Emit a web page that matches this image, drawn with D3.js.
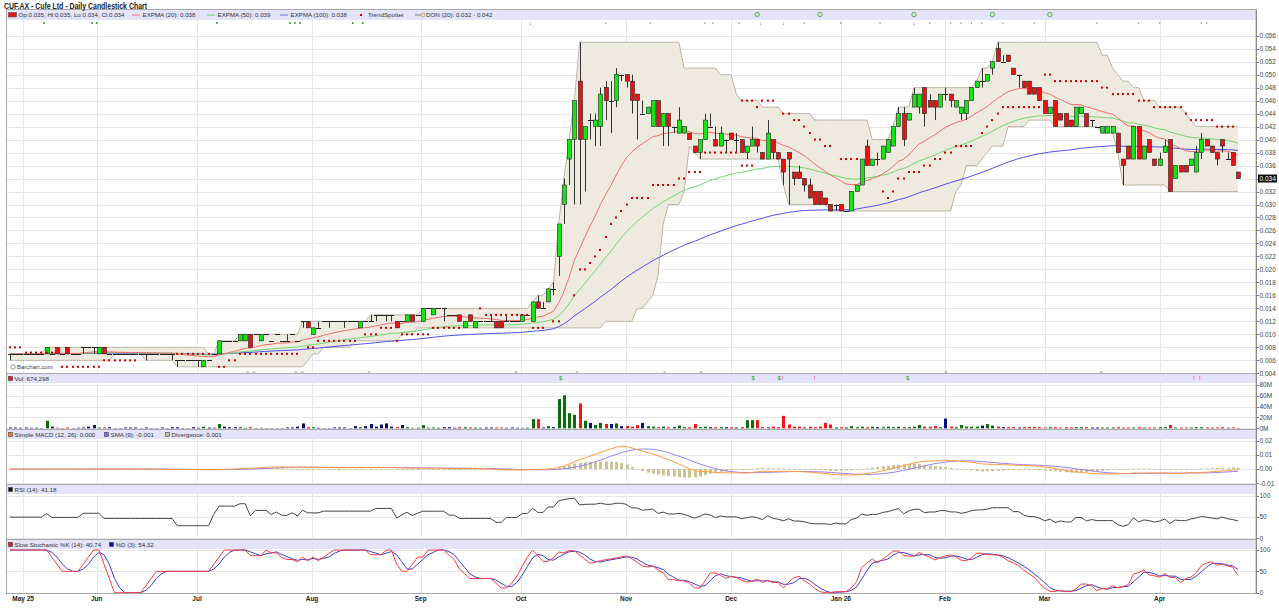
<!DOCTYPE html>
<html>
<head>
<meta charset="utf-8">
<title>CUF.AX - Cufe Ltd - Daily Candlestick Chart</title>
<script src="https://cdn.jsdelivr.net/npm/d3@7/dist/d3.min.js"></script>
<style>
	body { margin: 0; background: #ffffff; }
	svg { display: block; font-family: Arial, "Liberation Sans", Helvetica, sans-serif; }
</style>
</head>
<body>
<svg id="chart" width="1279" height="615"></svg>
<script>
// daily bars (one entry per bar, oldest first)
var priceOpen = [
	.007,.007,.007,.007,.007,.007,.007,.007,.007,.008,
	.007,.008,.007,.007,.008,.008,.008,.007,.008,.007,
	.007,.007,.007,.007,.007,.007,.007,.007,.007,.007,
	.007,.007,.006,.006,.006,.006,.006,.005,.006,.007,
	.007,.009,.009,.009,.009,.009,.010,.010,.009,.010,
	.009,.010,.009,.009,.010,.009,.012,.012,.010,.011,
	.012,.012,.012,.012,.012,.012,.012,.011,.012,.012,
	.013,.013,.013,.013,.012,.012,.012,.013,.013,.012,
	.014,.013,.014,.014,.013,.013,.013,.011,.013,.011,
	.012,.012,.012,.012,.012,.012,.012,.012,.012,.013,
	.012,.015,.014,.015,.017,.022,.030,.037,.040,.049,
	.040,.043,.042,.042,.048,.046,.046,.050,.050,.049,
	.047,.044,.044,.042,.046,.042,.044,.042,.041,.041,
	.041,.039,.038,.040,.042,.040,.039,.040,.041,.040,
	.040,.038,.039,.040,.038,.037,.040,.038,.037,.038,
	.035,.035,.034,.033,.032,.032,.031,.030,.030,.030,
	.029,.029,.032,.033,.039,.036,.037,.037,.038,.039,
	.042,.044,.043,.045,.045,.048,.046,.046,.045,.047,
	.047,.045,.044,.044,.046,.048,.049,.049,.051,.054,
	.052,.053,.051,.050,.049,.049,.048,.048,.046,.044,
	.046,.044,.044,.043,.042,.044,.044,.043,.042,.041,
	.041,.041,.041,.037,.039,.037,.042,.037,.040,.037,
	.036,.038,.040,.034,.036,.036,.036,.035,.038,.040,
	.039,.038,.040,.037,.038,.035
];
var priceHigh = [
	.007,.007,.007,.007,.007,.007,.007,.008,.007,.008,
	.007,.008,.007,.007,.008,.008,.008,.008,.008,.007,
	.007,.007,.007,.007,.007,.007,.007,.007,.007,.007,
	.007,.007,.006,.006,.006,.006,.006,.006,.006,.007,
	.009,.009,.009,.009,.010,.010,.010,.010,.010,.010,
	.009,.010,.009,.010,.010,.009,.012,.012,.011,.012,
	.012,.012,.012,.012,.012,.012,.012,.012,.012,.013,
	.013,.013,.013,.013,.012,.012,.013,.013,.013,.014,
	.014,.014,.014,.014,.013,.013,.013,.012,.013,.012,
	.012,.012,.013,.012,.012,.013,.012,.012,.013,.013,
	.015,.016,.015,.017,.018,.027,.034,.040,.046,.055,
	.042,.044,.044,.048,.049,.049,.051,.050,.050,.050,
	.047,.046,.045,.046,.046,.044,.044,.042,.045,.042,
	.041,.039,.040,.044,.044,.042,.042,.040,.041,.041,
	.040,.039,.042,.040,.038,.043,.040,.038,.037,.038,
	.035,.036,.034,.034,.032,.032,.031,.030,.030,.030,
	.029,.032,.033,.037,.040,.037,.038,.039,.040,.042,
	.045,.045,.044,.048,.047,.048,.047,.046,.047,.048,
	.047,.046,.045,.046,.048,.049,.051,.050,.052,.055,
	.053,.053,.051,.050,.049,.049,.048,.048,.046,.045,
	.046,.044,.044,.043,.045,.045,.044,.043,.042,.042,
	.042,.042,.041,.037,.039,.042,.042,.039,.040,.037,
	.038,.040,.040,.036,.036,.036,.037,.039,.041,.040,
	.039,.038,.040,.038,.038,.035
];
var priceLow = [
	.006,.007,.007,.007,.007,.007,.007,.007,.007,.007,
	.007,.007,.007,.007,.007,.008,.007,.007,.007,.007,
	.007,.007,.007,.007,.007,.007,.006,.007,.007,.007,
	.007,.006,.005,.006,.006,.006,.005,.005,.006,.007,
	.007,.009,.009,.009,.009,.009,.008,.010,.009,.010,
	.009,.010,.009,.009,.010,.009,.011,.011,.010,.011,
	.012,.011,.012,.012,.011,.012,.012,.011,.012,.012,
	.012,.013,.012,.012,.011,.012,.012,.012,.013,.012,
	.014,.013,.014,.012,.013,.013,.012,.011,.012,.011,
	.012,.012,.012,.011,.011,.012,.012,.012,.012,.013,
	.012,.014,.014,.015,.016,.019,.027,.033,.030,.030,
	.032,.040,.039,.039,.043,.041,.045,.049,.048,.044,
	.040,.044,.044,.042,.042,.039,.039,.041,.041,.041,
	.040,.038,.037,.040,.042,.039,.039,.038,.040,.038,
	.038,.037,.039,.038,.037,.037,.037,.037,.033,.030,
	.033,.034,.032,.031,.030,.030,.030,.029,.029,.029,
	.029,.029,.032,.033,.036,.036,.036,.037,.038,.039,
	.042,.039,.043,.045,.044,.042,.045,.043,.045,.046,
	.045,.045,.043,.043,.046,.048,.048,.049,.050,.052,
	.052,.052,.050,.048,.048,.047,.047,.046,.044,.044,
	.042,.043,.042,.042,.042,.044,.042,.042,.042,.041,
	.041,.041,.038,.033,.037,.037,.037,.037,.038,.036,
	.036,.038,.032,.034,.035,.035,.036,.035,.037,.039,
	.038,.036,.038,.037,.036,.034
];
var priceClose = [
	.007,.007,.007,.007,.007,.007,.007,.008,.007,.007,
	.007,.007,.007,.007,.008,.008,.008,.008,.007,.007,
	.007,.007,.007,.007,.007,.007,.007,.007,.007,.007,
	.007,.007,.006,.006,.006,.006,.006,.006,.006,.007,
	.009,.009,.009,.009,.010,.010,.008,.010,.010,.010,
	.009,.010,.009,.009,.010,.009,.012,.011,.011,.011,
	.012,.012,.012,.012,.012,.012,.012,.012,.012,.012,
	.013,.013,.013,.013,.011,.012,.013,.012,.013,.014,
	.014,.014,.014,.014,.013,.013,.012,.012,.012,.012,
	.012,.012,.012,.011,.011,.012,.012,.012,.013,.013,
	.015,.014,.014,.017,.017,.027,.033,.040,.046,.040,
	.042,.043,.043,.047,.046,.046,.050,.050,.049,.046,
	.046,.044,.045,.046,.042,.044,.042,.042,.043,.042,
	.040,.038,.040,.043,.042,.039,.041,.040,.040,.040,
	.038,.039,.040,.039,.037,.041,.038,.037,.035,.037,
	.034,.034,.033,.031,.030,.030,.030,.029,.030,.029,
	.029,.032,.033,.037,.036,.037,.037,.039,.040,.042,
	.044,.040,.044,.047,.047,.044,.045,.045,.047,.047,
	.046,.046,.045,.046,.048,.049,.049,.050,.052,.052,
	.052,.052,.050,.050,.048,.047,.047,.046,.044,.045,
	.042,.043,.042,.042,.045,.045,.042,.043,.042,.042,
	.042,.042,.038,.036,.037,.042,.037,.039,.038,.036,
	.037,.039,.032,.036,.035,.035,.037,.038,.040,.039,
	.038,.037,.039,.037,.036,.034
];
// volume in millions of shares
var volumeM = [
	1.5,1.5,1,1.5,1,1,0.5,14,3,1,
	0.5,1.5,0.5,1,1.5,3,6,1.5,1.5,2,
	0.5,0.5,1.5,1.5,1.5,0.5,1.5,0.5,0.5,1.5,
	0.5,2,2,0.5,0.5,2,1,3,1.5,1,
	8,3,2,2,2,1,2,0.5,1,0.5,
	0.5,0.5,0.5,1.5,1.5,3,9,2,2,1,
	0.5,0.5,1.5,1.5,1.5,0.5,4,2,4,8,
	3,7,9,3,2,6,2,1,1,6,
	1,1.5,1,2,2,1,2,2,1.5,1.5,
	1,1.5,1.5,1.5,1.5,1,1.5,1,1,1,
	17,17,1.5,4,2,54,61,28,25,46,
	14,10,6,10,8,8,9,4,4,3,
	6,10,4,3,2,3,2,2,5,2,
	2,8,2,3,2,2,2,2,2,1.5,
	2,15,15,15,2,2,3,2,23,7,
	3,3,2,3,2,3,10,7,1.5,2,
	1.5,4,2,3,2,3,2,2,3,2,
	3,2,2,3,6,3,3,4,2,18,
	3,2,6,3,3,3,5,8,5,3,
	2,2,2,1.5,2,2,2,2,1.5,2,
	2,1.5,2,1.5,2,2,2,1.5,1.5,1.5,
	1.5,1.5,2,1.5,1.5,1.5,2,1.5,1.5,1.5,
	2,2,6,1.5,1.5,1.5,1.5,2,2,1.5,
	1.5,1.5,2,1,1.5,0.67
];

// x axis: month labels and the bar position where each month starts
var monthLabels = ["May 25", "Jun", "Jul", "Aug", "Sep", "Oct", "Nov", "Dec", "Jan 26", "Feb", "Mar", "Apr"];
var monthIdx = [2.5, 16.6, 35.8, 57.8, 78.6, 97.8, 117.9, 138, 159, 178.9, 198, 220];

// TrendSpotter dots as runs: first bar, last bar, level
var spotStart = [0,3,10,18,32,40,42,44,57,59,68,71,74,75,81,90,91,100,104,108,109,111,112,113,114,115,116,117,118,119,123,128,130,133,140,140,143,144,148,150,152,153,154,156,159,167,168,169,170,172,175,177,179,181,186,187,188,189,190,198,200,209,211,216,219,225,226,231];
var spotEnd   = [2,8,17,24,38,41,43,55,58,66,70,73,74,80,86,90,99,102,105,108,110,111,112,113,114,115,116,117,118,122,127,129,132,139,142,142,143,146,149,151,152,153,155,157,162,167,168,169,171,174,176,178,180,184,186,187,188,189,197,199,208,210,215,218,224,225,230,234];
var spotValue = [.008,.0072,.005,.006,.007,.005,.006,.007,.008,.009,.010,.011,.009,.010,.011,.014,.013,.011,.012,.016,.020,.021,.022,.023,.025,.027,.028,.029,.030,.031,.033,.034,.035,.038,.036,.046,.045,.046,.044,.043,.042,.041,.040,.039,.037,.032,.031,.032,.034,.035,.036,.037,.038,.039,.041,.042,.043,.044,.045,.050,.049,.048,.047,.046,.045,.044,.043,.042];

// signal / event markers (bar positions)
var upSignals = [6.5, 15.7, 16.6, 39.6, 53.6, 54.5, 55.5, 65.6, 67.5];
var downSignals = [99.6, 143.6, 148, 173];
var smallSignals = [114, 122.5, 133, 134.5, 139.5, 152, 159, 166.5, 176, 180, 182, 184, 186, 190, 196, 208, 216, 220, 228, 229];
var circleSignals = [143, 155, 173, 188, 199];
var caretEvents = [45.5, 46.7, 54.7, 55.9, 68.7, 96.8, 108.5, 125.3, 132.2, 179.1, 208.8];
var dollarEvents = [105.4, 142.2, 147.2, 171.8];
var pinkEvents = [147.9, 154, 226.6, 227.7];

// legend texts as printed on the chart
var titleText = "CUF.AX - Cufe Ltd - Daily Candlestick Chart";
var legendMain = ["Op:0.035, Hi:0.035, Lo:0.034, Cl:0.034", "EXPMA (20): 0.038", "EXPMA (50): 0.039", "EXPMA (100): 0.038", "TrendSpotter", "DON (20): 0.032 - 0.042"];
var legendVol = "Vol: 674,298";
var legendMacd = ["Simple MACD (12, 26): 0.000", "SMA (9): -0.001", "Divergence: 0.001"];
var legendRsi = "RSI (14): 41.18";
var legendStoch = ["Slow Stochastic %K (14): 40.74", "%D (3): 54.32"];
var lastPrice = 0.034;

// ---- studies computed from the bars ----
function emaOf(v, len)
{
	var k = 2 / (len + 1), out = [];
	v.forEach(function(d, i) { out.push(i === 0 ? d : d * k + out[i - 1] * (1 - k)); });
	return out;
}
function smaOf(v, len)
{
	return v.map(function(d, i) { return d3.mean(v.slice(Math.max(0, i - len + 1), i + 1)); });
}
function rsiOf(c, len)
{
	// wilder smoothing, started from a neutral state
	var ag = 0.0003, al = 0.0003, out = [50];
	for (var i = 1; i < c.length; i++)
	{
		var d = c[i] - c[i - 1];
		ag = (ag * (len - 1) + Math.max(d, 0)) / len;
		al = (al * (len - 1) + Math.max(-d, 0)) / len;
		out.push(100 - 100 / (1 + ag / al));
	}
	return out;
}

var n = priceClose.length;
var ema20 = emaOf(priceClose, 20), ema50 = emaOf(priceClose, 50), ema100 = emaOf(priceClose, 100);
var donHigh = priceHigh.map(function(d, i) { return d3.max(priceHigh.slice(Math.max(0, i - 19), i + 1)); });
var donLow = priceLow.map(function(d, i) { return d3.min(priceLow.slice(Math.max(0, i - 19), i + 1)); });
var sma12 = smaOf(priceClose, 12), sma26 = smaOf(priceClose, 26);
var macd = sma12.map(function(d, i) { return d - sma26[i]; });
var macdSig = smaOf(macd, 9);
var macdDiv = macd.map(function(d, i) { return d - macdSig[i]; });
var rsi = rsiOf(priceClose, 14);
var fastK = priceClose.map(function(c, i)
{
	var hh = d3.max(priceHigh.slice(Math.max(0, i - 13), i + 1));
	var ll = d3.min(priceLow.slice(Math.max(0, i - 13), i + 1));
	return hh === ll ? 50 : (c - ll) / (hh - ll) * 100;
});
var slowK = smaOf(fastK, 3);
var slowD = smaOf(slowK, 3);

var spots = [];
spotStart.forEach(function(s, k)
{
	for (var i = s; i <= spotEnd[k]; i++) spots.push({ i: i, v: spotValue[k] });
});

// ---- layout ----
var svg = d3.select("#chart");
var plotLeft = 6, plotRight = 1256;
var x = d3.scaleLinear().domain([0, n - 1]).range([10, 1238]);
var idx = d3.range(n);
function cx(i) { return Math.round(x(i)) + 0.5; }

var panes = [
	{ id: "main", top: 9.5, bottom: 373.5, legendH: 10,
		y: d3.scaleLinear().domain([0.004, 0.056]).range([373.3, 35.7]),
		ticks: d3.range(4, 57, 2).map(function(d) { return d / 1000; }),
		fmt: function(d) { return d.toFixed(3); } },
	{ id: "vol", top: 373.5, bottom: 429.5, legendH: 9,
		y: d3.scaleLinear().domain([0, 80]).range([428.3, 385]),
		ticks: [0, 20, 40, 60, 80], fmt: function(d) { return d + "M"; } },
	{ id: "macd", top: 429.5, bottom: 484.5, legendH: 9,
		y: d3.scaleLinear().domain([-0.01, 0.02]).range([483.3, 440.7]),
		ticks: [-0.01, 0, 0.01, 0.02], fmt: function(d) { return d.toFixed(2); } },
	{ id: "rsi", top: 484.5, bottom: 539.5, legendH: 9,
		y: d3.scaleLinear().domain([0, 100]).range([538.3, 496]),
		ticks: [0, 50, 100], fmt: String },
	{ id: "stoch", top: 539.5, bottom: 593.5, legendH: 9,
		y: d3.scaleLinear().domain([0, 100]).range([592.7, 550]),
		ticks: [0, 50, 100], fmt: String }
];
var pane = {};
panes.forEach(function(p) { pane[p.id] = p; });

var defs = svg.append("defs");
panes.forEach(function(p)
{
	defs.append("clipPath").attr("id", "clip-" + p.id).append("rect")
		.attr("x", plotLeft).attr("y", p.top).attr("width", plotRight - plotLeft).attr("height", p.bottom - p.top);

	var g = svg.append("g").attr("class", "pane-" + p.id);
	// horizontal grid
	g.selectAll("line.hgrid").data(p.ticks).join("line")
		.attr("x1", plotLeft).attr("x2", plotRight)
		.attr("y1", function(d) { return Math.round(p.y(d)) + 0.5; })
		.attr("y2", function(d) { return Math.round(p.y(d)) + 0.5; })
		.attr("stroke", "#e6e6e6").attr("stroke-width", 1);
	// month grid
	g.selectAll("line.vgrid").data(monthIdx).join("line")
		.attr("x1", function(d) { return cx(d); }).attr("x2", function(d) { return cx(d); })
		.attr("y1", p.top).attr("y2", p.bottom)
		.attr("stroke", "#e6e6e6").attr("stroke-width", 1);
	// legend strip
	g.append("rect").attr("x", plotLeft + 0.5).attr("y", p.top + 0.5)
		.attr("width", plotRight - plotLeft - 1).attr("height", p.legendH)
		.attr("fill", "#e4e4f9");
	p.plot = svg.append("g").attr("clip-path", "url(#clip-" + p.id + ")");
	// right axis ticks and labels
	var ax = svg.append("g");
	ax.selectAll("line").data(p.ticks).join("line")
		.attr("x1", plotRight).attr("x2", plotRight + 3)
		.attr("y1", function(d) { return Math.round(p.y(d)) + 0.5; })
		.attr("y2", function(d) { return Math.round(p.y(d)) + 0.5; })
		.attr("stroke", "#777");
	ax.selectAll("text").data(p.ticks).join("text")
		.attr("x", plotRight + 3.5).attr("y", function(d) { return p.y(d); }).attr("dy", "0.35em")
		.attr("font-size", 6.5).attr("fill", "#444").text(p.fmt);
});

// ---- main price pane ----
var yP = pane.main.y, mg = pane.main.plot;
mg.append("path").datum(idx)
	.attr("d", d3.area().x(function(i) { return x(i); })
		.y0(function(i) { return yP(donLow[i]); }).y1(function(i) { return yP(donHigh[i]); }))
	.attr("fill", "#efeadf");
[donHigh, donLow].forEach(function(s)
{
	mg.append("path").datum(idx)
		.attr("d", d3.line().x(function(i) { return x(i); }).y(function(i) { return yP(s[i]); }))
		.attr("fill", "none").attr("stroke", "#bdb5a6").attr("stroke-width", 1);
});
[[ema100, "#4f4ff0"], [ema50, "#6fd66f"], [ema20, "#f26b6b"]].forEach(function(e)
{
	mg.append("path").datum(idx)
		.attr("d", d3.line().x(function(i) { return x(i); }).y(function(i) { return yP(e[0][i]); }))
		.attr("fill", "none").attr("stroke", e[1]).attr("stroke-width", 1);
});

mg.selectAll("line.wick").data(idx).join("line").attr("class", "wick")
	.attr("x1", cx).attr("x2", cx)
	.attr("y1", function(i) { return yP(priceHigh[i]); })
	.attr("y2", function(i) { return yP(priceLow[i]); })
	.attr("stroke", "#333").attr("stroke-width", 1);
var bodies = idx.filter(function(i) { return priceOpen[i] !== priceClose[i]; });
var dojis = idx.filter(function(i) { return priceOpen[i] === priceClose[i]; });
mg.selectAll("rect.body").data(bodies).join("rect").attr("class", "body")
	.attr("x", function(i) { return cx(i) - 2; }).attr("width", 4)
	.attr("y", function(i) { return yP(Math.max(priceOpen[i], priceClose[i])); })
	.attr("height", function(i) { return Math.max(1, yP(Math.min(priceOpen[i], priceClose[i])) - yP(Math.max(priceOpen[i], priceClose[i]))); })
	.attr("fill", function(i) { return priceClose[i] > priceOpen[i] ? "#14e614" : "#ec1010"; })
	.attr("stroke", "#222").attr("stroke-width", 0.6);
mg.selectAll("line.doji").data(dojis).join("line").attr("class", "doji")
	.attr("x1", function(i) { return cx(i) - 2.5; }).attr("x2", function(i) { return cx(i) + 2.5; })
	.attr("y1", function(i) { return Math.round(yP(priceClose[i])) + 0.5; })
	.attr("y2", function(i) { return Math.round(yP(priceClose[i])) + 0.5; })
	.attr("stroke", "#222").attr("stroke-width", 1);

mg.selectAll("rect.spot").data(spots).join("rect").attr("class", "spot")
	.attr("x", function(d) { return cx(d.i) - 1.5; }).attr("y", function(d) { return yP(d.v) - 1; })
	.attr("width", 2).attr("height", 2).attr("fill", "#cc0000");

// signal markers along the top of the price pane
mg.selectAll("circle.up").data(upSignals).join("circle")
	.attr("cx", function(d) { return x(d); }).attr("cy", 23).attr("r", 1).attr("fill", "#2a9a2a");
mg.selectAll("circle.small").data(smallSignals).join("circle")
	.attr("cx", function(d) { return x(d); }).attr("cy", 23).attr("r", 0.7).attr("fill", "#777");
mg.selectAll("text.down").data(downSignals).join("text")
	.attr("x", function(d) { return x(d); }).attr("y", 25).attr("text-anchor", "middle")
	.attr("font-size", 6).attr("fill", "#dd2222").text("\u2193");
svg.selectAll("circle.ring").data(circleSignals).join("circle")
	.attr("cx", function(d) { return x(d); }).attr("cy", 14.5).attr("r", 2.2)
	.attr("fill", "#d8f0d8").attr("stroke", "#3a9a3a").attr("stroke-width", 0.8);

// event markers along the bottom
mg.selectAll("text.caret").data(caretEvents).join("text")
	.attr("x", function(d) { return x(d); }).attr("y", 375).attr("text-anchor", "middle")
	.attr("font-size", 6).attr("fill", "#666").text("^");
svg.selectAll("text.dollar").data(dollarEvents).join("text")
	.attr("x", function(d) { return x(d); }).attr("y", 380).attr("text-anchor", "middle")
	.attr("font-size", 6).attr("fill", "#2a9a2a").text("$");
svg.selectAll("text.pink").data(pinkEvents).join("text")
	.attr("x", function(d) { return x(d); }).attr("y", 380).attr("text-anchor", "middle")
	.attr("font-size", 6).attr("font-weight", "bold").attr("fill", "#ff55aa").text("!");

// watermark
mg.append("circle").attr("cx", 13).attr("cy", 367).attr("r", 2.3).attr("fill", "none").attr("stroke", "#555").attr("stroke-width", 0.6);
mg.append("text").attr("x", 17).attr("y", 369).attr("font-size", 6).attr("fill", "#444").text("Barchart.com");

// ---- volume ----
var yV = pane.vol.y;
pane.vol.plot.selectAll("rect").data(idx).join("rect")
	.attr("x", function(i) { return cx(i) - 1.5; }).attr("width", 3)
	.attr("y", function(i) { return yV(volumeM[i]); })
	.attr("height", function(i) { return yV(0) - yV(volumeM[i]); })
	.attr("fill", function(i) { return priceClose[i] > priceOpen[i] ? "#0a6e0a" : priceClose[i] < priceOpen[i] ? "#ff1010" : "#0a0a80"; });

// ---- MACD ----
var yM = pane.macd.y, macdG = pane.macd.plot;
macdG.selectAll("rect").data(idx).join("rect")
	.attr("x", function(i) { return cx(i) - 1.5; }).attr("width", 3)
	.attr("y", function(i) { return Math.min(yM(macdDiv[i]), yM(0)); })
	.attr("height", function(i) { return Math.max(0.8, Math.abs(yM(macdDiv[i]) - yM(0))); })
	.attr("fill", "#cbc391");
macdG.append("path").datum(idx)
	.attr("d", d3.line().x(function(i) { return x(i); }).y(function(i) { return yM(macdSig[i]); }))
	.attr("fill", "none").attr("stroke", "#9b80f2").attr("stroke-width", 1);
macdG.append("path").datum(idx)
	.attr("d", d3.line().x(function(i) { return x(i); }).y(function(i) { return yM(macd[i]); }))
	.attr("fill", "none").attr("stroke", "#ff9a3c").attr("stroke-width", 1);

// ---- RSI ----
var yR = pane.rsi.y;
pane.rsi.plot.append("path").datum(idx)
	.attr("d", d3.line().x(function(i) { return x(i); }).y(function(i) { return yR(rsi[i]); }))
	.attr("fill", "none").attr("stroke", "#444").attr("stroke-width", 1);

// ---- Stochastic ----
var yS = pane.stoch.y;
[[slowD, "#3d3dd6"], [slowK, "#ff3b3b"]].forEach(function(s)
{
	pane.stoch.plot.append("path").datum(idx)
		.attr("d", d3.line().x(function(i) { return x(i); }).y(function(i) { return yS(s[0][i]); }))
		.attr("fill", "none").attr("stroke", s[1]).attr("stroke-width", 1);
});

// ---- frames ----
panes.forEach(function(p)
{
	svg.append("rect").attr("x", plotLeft + 0.5).attr("y", p.top).attr("width", plotRight - plotLeft - 0.5)
		.attr("height", p.bottom - p.top).attr("fill", "none").attr("stroke", "#a8a8a8").attr("stroke-width", 1);
});
svg.append("line").attr("x1", plotRight + 0.5).attr("x2", plotRight + 0.5).attr("y1", 9.5).attr("y2", 593.5)
	.attr("stroke", "#888");

// last price flag
svg.append("rect").attr("x", plotRight + 2).attr("y", yP(lastPrice) - 4).attr("width", 19).attr("height", 8).attr("fill", "#111");
svg.append("text").attr("x", plotRight + 3.5).attr("y", yP(lastPrice)).attr("dy", "0.35em")
	.attr("font-size", 6.5).attr("fill", "#fff").text(lastPrice.toFixed(3));

// ---- legends ----
function legendText(px, py, txt)
{
	svg.append("text").attr("x", px).attr("y", py).attr("font-size", 6.2).attr("fill", "#333").text(txt);
}
function legendBox(px, py, fill)
{
	svg.append("rect").attr("x", px + 0.5).attr("y", py + 0.5).attr("width", 4).attr("height", 4)
		.attr("fill", fill).attr("stroke", "#444").attr("stroke-width", 0.6);
}
svg.append("text").attr("x", 4).attr("y", 8.6).attr("font-size", 8.6).attr("font-weight", "bold")
	.attr("textLength", 143).attr("lengthAdjust", "spacingAndGlyphs")
	.attr("fill", "#222").text(titleText);

svg.append("rect").attr("x", 8.5).attr("y", 12.5).attr("width", 8).attr("height", 4.5)
	.attr("fill", "#ee1111").attr("stroke", "#555").attr("stroke-width", 0.6);
legendText(18.5, 17, legendMain[0]);
[[132, "#f08080", legendMain[1]], [207, "#80d880", legendMain[2]], [280, "#8080f0", legendMain[3]]].forEach(function(l)
{
	svg.append("line").attr("x1", l[0]).attr("x2", l[0] + 8).attr("y1", 15).attr("y2", 15).attr("stroke", l[1]).attr("stroke-width", 1.2);
	legendText(l[0] + 10.5, 17, l[2]);
});
svg.append("rect").attr("x", 360).attr("y", 14).attr("width", 2).attr("height", 2).attr("fill", "#cc0000");
legendText(368, 17, legendMain[4]);
svg.append("line").attr("x1", 415).attr("x2", 423).attr("y1", 15).attr("y2", 15).attr("stroke", "#999").attr("stroke-width", 1.2);
svg.append("circle").attr("cx", 423).attr("cy", 15).attr("r", 2).attr("fill", "#e6dfcf").attr("stroke", "#9a9488").attr("stroke-width", 0.6);
legendText(426, 17, legendMain[5]);

legendBox(8, pane.vol.top + 2.5, "#ee1111");
legendText(14.5, pane.vol.top + 7.2, legendVol);

legendBox(8, pane.macd.top + 2.5, "#f47d20");
legendText(14.5, pane.macd.top + 7.2, legendMacd[0]);
legendBox(104, pane.macd.top + 2.5, "#8a6ae8");
legendText(110.5, pane.macd.top + 7.2, legendMacd[1]);
legendBox(165, pane.macd.top + 2.5, "#cbc391");
legendText(171.5, pane.macd.top + 7.2, legendMacd[2]);

legendBox(8, pane.rsi.top + 2.5, "#111");
legendText(14.5, pane.rsi.top + 7.2, legendRsi);

legendBox(8, pane.stoch.top + 2.5, "#ee1111");
legendText(14.5, pane.stoch.top + 7.2, legendStoch[0]);
legendBox(109, pane.stoch.top + 2.5, "#101080");
legendText(115.5, pane.stoch.top + 7.2, legendStoch[1]);

// ---- month labels ----
svg.selectAll("text.month").data(monthIdx).join("text")
	.attr("x", function(d) { return x(d); }).attr("y", 601).attr("text-anchor", "middle")
	.attr("font-size", 6.5).attr("font-weight", "bold").attr("fill", "#222")
	.text(function(d, k) { return monthLabels[k]; });
</script>
</body>
</html>
